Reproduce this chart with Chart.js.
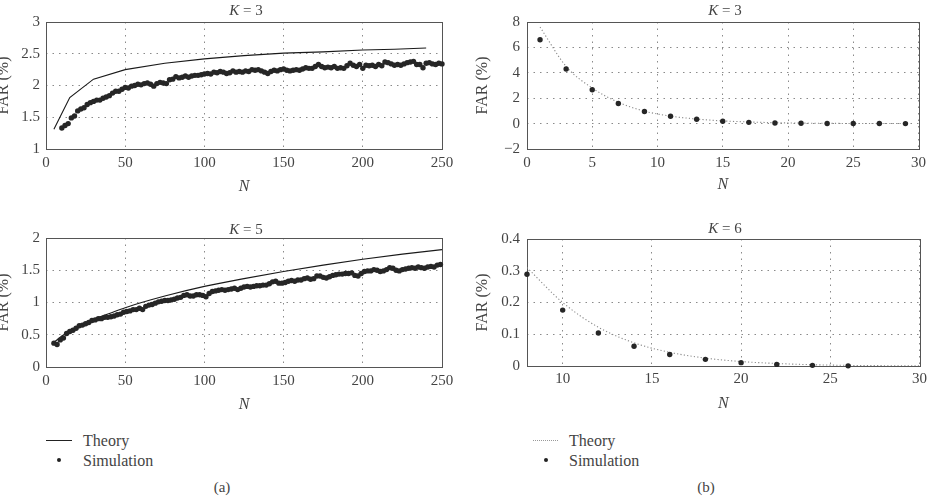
<!DOCTYPE html>
<html><head><meta charset="utf-8">
<script src="https://cdn.jsdelivr.net/npm/chart.js@4.4.1/dist/chart.umd.min.js"></script>
<style>
body{margin:0;width:931px;height:496px;background:#fff;overflow:hidden;position:relative;font-family:'Liberation Serif','DejaVu Serif','Noto Serif',serif;color:#444}
.cv{position:absolute}
.t{position:absolute;transform:translate(-50%,-50%);font-size:15px;white-space:nowrap;line-height:1}
.l{position:absolute;transform:translate(0,-50%);font-size:16px;white-space:nowrap;line-height:1}
i{font-style:italic}
</style></head><body>
<canvas id="c1" class="cv" width="470" height="200" style="left:-10px;top:0px"></canvas>
<canvas id="c2" class="cv" width="461" height="200" style="left:470px;top:0px"></canvas>
<canvas id="c3" class="cv" width="470" height="200" style="left:-10px;top:220px"></canvas>
<canvas id="c4" class="cv" width="461" height="200" style="left:470px;top:220px"></canvas>

<div class="t" style="left:246px;top:10px"><i>K</i> = 3</div>
<div class="t" style="left:725px;top:10px"><i>K</i> = 3</div>
<div class="t" style="left:246px;top:229px"><i>K</i> = 5</div>
<div class="t" style="left:725px;top:228px"><i>K</i> = 6</div>

<div style="position:absolute;left:46px;top:440px;width:26px;border-top:1px solid #222"></div>
<div class="l" style="left:83px;top:441px">Theory</div>
<div style="position:absolute;left:57px;top:458px;width:4px;height:4px;border-radius:50%;background:#222"></div>
<div class="l" style="left:83px;top:461px">Simulation</div>
<div class="t" style="left:222px;top:487px">(a)</div>

<div style="position:absolute;left:533px;top:440px;width:25px;border-top:1px dotted #999"></div>
<div class="l" style="left:569px;top:441px">Theory</div>
<div style="position:absolute;left:544px;top:458px;width:4px;height:4px;border-radius:50%;background:#222"></div>
<div class="l" style="left:569px;top:461px">Simulation</div>
<div class="t" style="left:706px;top:487px">(b)</div>

<script>
// ---------- (a) K = 3 ----------
const simN_a3 = [10,12,14,16,18,20,22,24,26,28,30,32,34,36,38,40,42,44,46,48,50,52,54,56,58,60,62,64,66,68,70,72,74,76,78,80,82,84,86,88,90,92,94,96,98,100,102,104,106,108,110,112,114,116,118,120,122,124,126,128,130,132,134,136,138,140,142,144,146,148,150,152,154,156,158,160,162,164,166,168,170,172,174,176,178,180,182,184,186,188,190,192,194,196,198,200,202,204,206,208,210,212,214,216,218,220,222,224,226,228,230,232,234,236,238,240,242,244,246,248,250];
const simFAR_a3 = [1.33,1.37,1.40,1.49,1.52,1.60,1.63,1.65,1.70,1.73,
1.75,1.77,1.77,1.80,1.82,1.84,1.88,1.91,1.91,1.94,
1.97,1.96,1.99,2.00,2.02,2.01,2.03,2.04,2.02,1.99,
2.03,2.05,2.04,2.03,2.09,2.10,2.14,2.12,2.13,2.15,
2.13,2.15,2.16,2.16,2.17,2.18,2.19,2.18,2.21,2.20,
2.22,2.21,2.19,2.20,2.23,2.21,2.22,2.21,2.23,2.22,
2.25,2.24,2.25,2.23,2.21,2.19,2.22,2.24,2.23,2.25,
2.26,2.24,2.23,2.24,2.25,2.24,2.26,2.28,2.27,2.27,
2.30,2.33,2.30,2.28,2.29,2.28,2.30,2.27,2.28,2.27,
2.31,2.35,2.32,2.30,2.33,2.27,2.32,2.31,2.32,2.30,
2.33,2.31,2.37,2.36,2.34,2.32,2.33,2.32,2.34,2.36,
2.37,2.38,2.33,2.33,2.28,2.35,2.36,2.34,2.33,2.35,
2.34];
const theoryN_a3 = [5,15,30,50,75,100,125,150,175,200,220,240];
const theoryFAR_a3 = [1.31,1.81,2.10,2.25,2.35,2.42,2.47,2.51,2.53,2.56,2.57,2.59];

// ---------- (a) K = 5 ----------
const simN_a5 = [5,7,9,11,13,15,17,19,21,23,25,27,29,31,33,35,37,39,41,43,45,47,49,51,53,55,57,59,61,63,65,67,69,71,73,75,77,79,81,83,85,87,89,91,93,95,97,99,101,103,105,107,109,111,113,115,117,119,121,123,125,127,129,131,133,135,137,139,141,143,145,147,149,151,153,155,157,159,161,163,165,167,169,171,173,175,177,179,181,183,185,187,189,191,193,195,197,199,201,203,205,207,209,211,213,215,217,219,221,223,225,227,229,231,233,235,237,239,241,243,245,247,249];
const simFAR_a5 = [0.37,0.35,0.42,0.45,0.52,0.55,0.57,0.60,0.64,0.65,
0.67,0.69,0.72,0.73,0.75,0.75,0.77,0.77,0.78,0.79,
0.81,0.82,0.85,0.86,0.87,0.89,0.89,0.91,0.89,0.94,
0.96,0.97,0.99,1.01,1.02,1.03,1.03,1.04,1.05,1.07,
1.08,1.11,1.12,1.10,1.10,1.12,1.12,1.11,1.09,1.14,
1.17,1.18,1.19,1.20,1.19,1.20,1.21,1.22,1.20,1.22,
1.24,1.25,1.24,1.25,1.26,1.26,1.27,1.27,1.29,1.32,
1.33,1.30,1.30,1.31,1.33,1.34,1.33,1.35,1.35,1.37,
1.38,1.36,1.37,1.41,1.41,1.39,1.38,1.40,1.42,1.43,
1.44,1.44,1.45,1.45,1.46,1.42,1.41,1.45,1.48,1.49,
1.49,1.51,1.50,1.48,1.49,1.51,1.54,1.53,1.50,1.49,
1.51,1.52,1.53,1.54,1.53,1.55,1.54,1.53,1.55,1.56,
1.55,1.58,1.59];
const theoryN_a5 = [5,10,15,20,30,40,50,75,100,125,150,175,200,225,250];
const theoryFAR_a5 = [0.38,0.48,0.56,0.63,0.74,0.83,0.92,1.10,1.25,1.37,1.48,1.58,1.67,1.75,1.82];

// ---------- (b) K = 3 ----------
const simN_b3 = [1,3,5,7,9,11,13,15,17,19,21,23,25,27,29];
const simFAR_b3 = [6.6,4.3,2.66,1.58,0.95,0.58,0.34,0.18,0.10,0.05,0.03,0.01,0.005,0.002,0.001];
const theoryN_b3 = [1,3,5,7,9,11,13,15,17,19,21,23,25,27,29];
const theoryFAR_b3 = [7.6,4.5,2.8,1.68,0.98,0.59,0.36,0.21,0.13,0.07,0.04,0.02,0.01,0.006,0.003];

// ---------- (b) K = 6 ----------
const simN_b6 = [8,10,12,14,16,18,20,22,24,26];
const simFAR_b6 = [0.289,0.176,0.104,0.062,0.036,0.021,0.0105,0.005,0.002,0.0005];
const theoryN_b6 = [8,10,12,14,16,18,20,22,24,26,28,30];
const theoryFAR_b6 = [0.31,0.20,0.122,0.073,0.043,0.025,0.014,0.008,0.004,0.002,0.001,0.0005];

// ---------- tick labels ----------
const xTicks_a = [0,50,100,150,200,250];
const yTicks_a3 = [1,1.5,2,2.5,3];
const yTicks_a5 = [0,0.5,1,1.5,2];
const xTicks_b3 = [0,5,10,15,20,25,30];
const yTicks_b3 = [-2,0,2,4,6,8];
const xTicks_b6 = [10,15,20,25,30];
const yTicks_b6 = [0,0.1,0.2,0.3,0.4];

const FONT = "'Liberation Serif', 'DejaVu Serif', 'Noto Serif', serif";
const TXT = '#444';

const zip = (xs, ys) => xs.map((x, i) => ({x: x, y: ys[i]}));
const fmt = v => (v < 0 ? '\u2212' + Math.abs(v) : String(v));

const boxPlugin = {
  id: 'box',
  beforeDatasetsDraw(chart) {
    const a = chart.chartArea, ctx = chart.ctx;
    ctx.save();
    ctx.strokeStyle = '#555';
    ctx.lineWidth = 1;
    ctx.setLineDash([]);
    ctx.strokeRect(Math.round(a.left) + 0.5, Math.round(a.top) + 0.5,
                   Math.round(a.right - a.left), Math.round(a.bottom - a.top));
    ctx.restore();
  }
};

function makeChart(id, o) {
  const sim = {
    label: 'Simulation', data: zip(o.simN, o.simY), showLine: false,
    pointRadius: 2.7, pointBackgroundColor: '#262626', pointBorderWidth: 0,
    pointHoverRadius: 2.7, clip: false
  };
  const th = {
    label: 'Theory', data: zip(o.thN, o.thY), showLine: true, pointRadius: 0,
    borderColor: o.dotted ? '#8a8a8a' : '#1a1a1a', borderWidth: 1.1,
    borderDash: o.dotted ? [1.2, 2.2] : [], fill: false,
    tension: o.smooth ? 0.4 : 0, cubicInterpolationMode: o.smooth ? 'monotone' : 'default'
  };
  return new Chart(document.getElementById(id), {
    type: 'scatter',
    data: { datasets: [sim, th] },
    options: {
      responsive: false, animation: false, devicePixelRatio: 1,
      layout: { padding: { top: o.padTop, right: o.padRight, left: 0, bottom: 0 } },
      plugins: { legend: { display: false }, tooltip: { enabled: false } },
      scales: {
        x: {
          type: 'linear', min: o.xMin, max: o.xMax,
          afterBuildTicks: s => { s.ticks = o.xTicks.map(v => ({ value: v })); },
          afterFit: s => { s.height = o.xHeight; },
          ticks: { callback: fmt, color: TXT, font: { family: FONT, size: 15 }, padding: o.xTickPad, maxRotation: 0, autoSkip: false },
          grid: { color: '#8a8a8a', lineWidth: 1, drawTicks: false },
          border: { display: false, dash: [1.5, 5] },
          title: { display: true, text: 'N', color: TXT, font: { family: FONT, size: 16, style: 'italic' }, padding: { top: 0, bottom: o.xTitlePad } }
        },
        y: {
          type: 'linear', min: o.yMin, max: o.yMax,
          afterBuildTicks: s => { s.ticks = o.yTicks.map(v => ({ value: v })); },
          afterFit: s => { s.width = o.yWidth; },
          ticks: { callback: fmt, color: TXT, font: { family: FONT, size: 15 }, padding: o.yTickPad, autoSkip: false },
          grid: { color: '#8a8a8a', lineWidth: 1, drawTicks: false },
          border: { display: false, dash: [1.5, 5] },
          title: { display: true, text: 'FAR (%)', color: TXT, font: { family: FONT, size: 16 }, padding: { top: o.yTitlePad, bottom: 0 } }
        }
      }
    },
    plugins: [boxPlugin]
  });
}

makeChart('c1', { simN: simN_a3, simY: simFAR_a3, thN: theoryN_a3, thY: theoryFAR_a3, dotted: false, smooth: false,
  xMin: 0, xMax: 250, xTicks: xTicks_a, yMin: 1, yMax: 3, yTicks: yTicks_a3,
  padTop: 22, padRight: 18, yWidth: 56, xHeight: 51, yTitlePad: 4.4, xTitlePad: 3.7, xTickPad: 5, yTickPad: 6 });

makeChart('c2', { simN: simN_b3, simY: simFAR_b3, thN: theoryN_b3, thY: theoryFAR_b3, dotted: true, smooth: true,
  xMin: 0, xMax: 30, xTicks: xTicks_b3, yMin: -2, yMax: 8, yTicks: yTicks_b3,
  padTop: 22, padRight: 7, yWidth: 57, xHeight: 51, yTitlePad: 3.4, xTitlePad: 5.4, xTickPad: 5, yTickPad: 7 });

makeChart('c3', { simN: simN_a5, simY: simFAR_a5, thN: theoryN_a5, thY: theoryFAR_a5, dotted: false, smooth: true,
  xMin: 0, xMax: 250, xTicks: xTicks_a, yMin: 0, yMax: 2, yTicks: yTicks_a5,
  padTop: 18, padRight: 18, yWidth: 56, xHeight: 53, yTitlePad: 4.4, xTitlePad: 5.4, xTickPad: 5, yTickPad: 6 });

makeChart('c4', { simN: simN_b6, simY: simFAR_b6, thN: theoryN_b6, thY: theoryFAR_b6, dotted: true, smooth: true,
  xMin: 8, xMax: 30, xTicks: xTicks_b6, yMin: 0, yMax: 0.4, yTicks: yTicks_b6,
  padTop: 19, padRight: 9, yWidth: 57, xHeight: 54, yTitlePad: 3.4, xTitlePad: 6.4, xTickPad: 4, yTickPad: 7 });
</script>
</body></html>
